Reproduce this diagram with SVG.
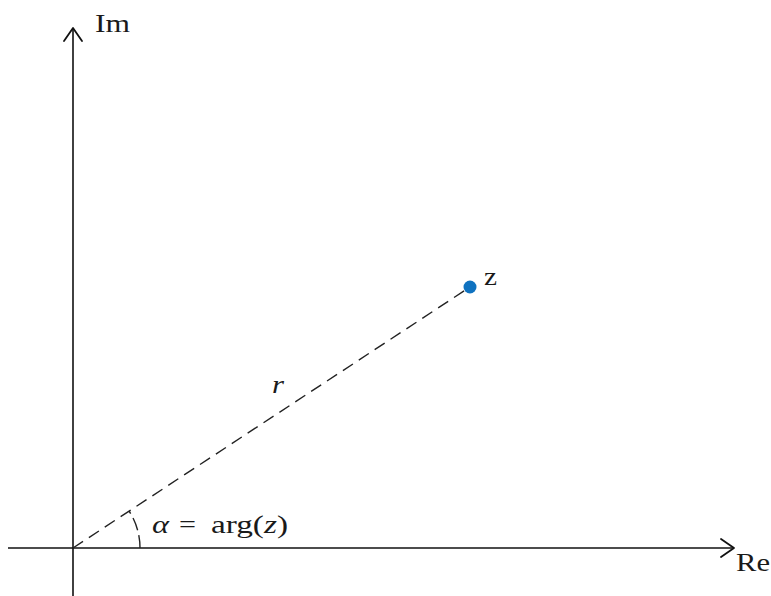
<svg xmlns="http://www.w3.org/2000/svg" width="771" height="596" viewBox="0 0 771 596">
<style>
.ax{stroke:#111;stroke-width:1.6;fill:none}
.ah{stroke:#111;stroke-width:1.8;fill:none;stroke-linecap:round;stroke-linejoin:round}
.ds{stroke:#222;stroke-width:1.4;fill:none;stroke-dasharray:12 7}
.t{font-family:"Liberation Serif","DejaVu Serif",serif;font-size:26px;fill:#1a1a1a}
.it{font-style:italic}
</style>
<rect width="771" height="596" fill="#fff"/>
<g id="axes">
<line class="ax" x1="73" y1="596" x2="73" y2="29"/>
<polyline class="ah" points="64,41 73,28 82,41"/>
<line class="ax" x1="8" y1="548" x2="733" y2="548"/>
<polyline class="ah" points="721,539 734,548 721,557"/>
</g>
<g id="connectors">
<line class="ds" x1="73" y1="548" x2="470" y2="287"/>
<path class="ds" d="M140,548 A67,67 0 0 0 129,511" style="stroke-dasharray:13 5"/>
</g>
<g id="z">
<circle cx="470" cy="287" r="6.5" fill="#0f72c0"/>
<text class="t" x="484" y="285" textLength="13" lengthAdjust="spacingAndGlyphs">z</text>
</g>
<text class="t" x="95" y="32" textLength="35" lengthAdjust="spacingAndGlyphs">Im</text>
<text class="t" x="736" y="571" textLength="34" lengthAdjust="spacingAndGlyphs">Re</text>
<text class="t it" x="272" y="393" textLength="12" lengthAdjust="spacingAndGlyphs">r</text>
<g id="label-alpha">
<text class="t it" x="152" y="533" textLength="17" lengthAdjust="spacingAndGlyphs">α</text>
<text class="t" x="179" y="533" textLength="17" lengthAdjust="spacingAndGlyphs">=</text>
<text class="t" x="211" y="533" textLength="77" lengthAdjust="spacingAndGlyphs">arg(<tspan class="it">z</tspan>)</text>
</g>
</svg>
